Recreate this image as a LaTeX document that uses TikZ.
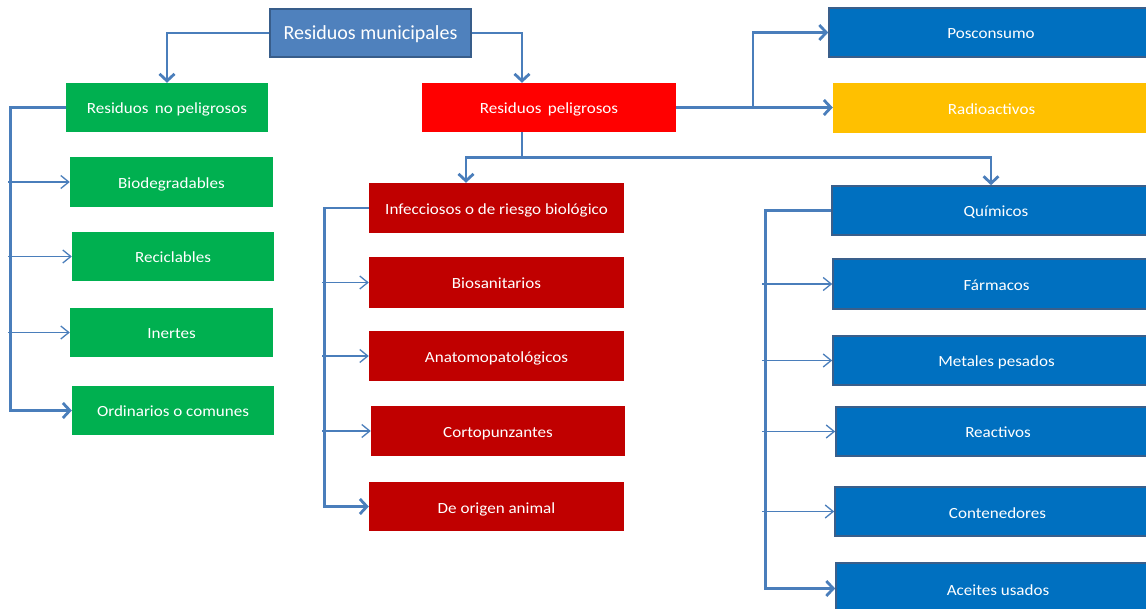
\documentclass[tikz,border=0pt]{standalone}
\usepackage{fontspec}
\setmainfont{Carlito}
\newfontfamily\boxfont[FakeStretch=1.1]{Carlito}
\usetikzlibrary{arrows.meta,calc}

\definecolor{lnk}{HTML}{4A7EBB}
\definecolor{topfill}{HTML}{4F81BD}
\definecolor{topline}{HTML}{385D8A}
\definecolor{verde}{HTML}{00B050}
\definecolor{rojo}{HTML}{FF0000}
\definecolor{granate}{HTML}{C00000}
\definecolor{azul}{HTML}{0070C0}
\definecolor{azulline}{HTML}{3A5F8B}
\definecolor{ambar}{HTML}{FFC000}

\tikzset{
  box/.style={rectangle, inner sep=0pt, text=white,
    text height=13pt, text depth=0pt,
    font=\boxfont\fontsize{15.5}{17}\selectfont},
  topbox/.style={box, fill=topfill, draw=topline, line width=2pt,
    text height=14pt, font=\fontsize{20}{23}\selectfont},
  gbox/.style={box, fill=verde},
  rbox/.style={box, fill=rojo},
  dbox/.style={box, fill=granate},
  bbox/.style={box, fill=azul, draw=azulline, line width=1.6pt},
  ybox/.style={box, fill=ambar},
  conn/.style={draw=lnk, line width=2.8pt,
    -{Straight Barb[length=7pt,width=15pt]}},
  trunk/.style={draw=lnk, line width=2.8pt},
  branch/.style={draw=lnk, line width=1.3pt,
    -{Straight Barb[length=8pt,width=13pt]}}
}

% box from its corners: x0, y0, x1, y1 (y grows downwards)
\newcommand\cornerbox[7]{%
  \node[#1, minimum width={#5-#3}, minimum height={#6-#4}]
    (#2) at ({(#3+#5)/2},{(#4+#6)/2}) {#7};}

\begin{document}
\begin{tikzpicture}[x=1pt,y=-1pt]
\useasboundingbox (0,0) rectangle (1146,609);
\clip (0,0) rectangle (1146,609);
\fill[white] (0,0) rectangle (1146,609);

% root
\cornerbox{topbox}{muni}{270}{9}{471}{57}{Residuos municipales}

% non-hazardous branch
\cornerbox{gbox}{nopel}{66}{83}{268}{132}{Residuos\, no peligrosos}
\cornerbox{gbox}{bio}{70}{157}{273}{207}{Biodegradables}
\cornerbox{gbox}{recic}{72}{232}{274}{281}{Reciclables}
\cornerbox{gbox}{inert}{70}{308}{273}{357}{Inertes}
\cornerbox{gbox}{ordin}{72}{386}{274}{435}{Ordinarios o comunes}

% hazardous branch
\cornerbox{rbox}{pel}{422}{83}{676}{132}{Residuos\, peligrosos}
\cornerbox{dbox}{infec}{369}{183}{624}{233}{Infecciosos o de riesgo biológico}
\cornerbox{dbox}{biosan}{369}{257}{624}{308}{Biosanitarios}
\cornerbox{dbox}{anat}{369}{331}{624}{381}{Anatomopatológicos}
\cornerbox{dbox}{corto}{371}{406}{625}{456}{Cortopunzantes}
\cornerbox{dbox}{animal}{369}{482}{624}{531}{De origen animal}

\cornerbox{bbox}{pos}{829}{8}{1153}{57}{Posconsumo}
\cornerbox{ybox}{radio}{833}{83}{1150}{133}{Radioactivos}

\cornerbox{bbox}{quim}{832}{186}{1160}{235}{Químicos}
\cornerbox{bbox}{farm}{833}{259}{1160}{309}{Fármacos}
\cornerbox{bbox}{metal}{833}{336}{1160}{385}{Metales pesados}
\cornerbox{bbox}{react}{836}{407}{1160}{456}{Reactivos}
\cornerbox{bbox}{cont}{835}{487}{1160}{536}{Contenedores}
\cornerbox{bbox}{aceite}{836}{563}{1160}{614}{Aceites usados}

% root to the two main groups
\draw[conn] (muni.west) -| (nopel.north);
\draw[conn] (muni.east) -| ([xshift=-27pt]pel.north);

% non-hazardous list
\coordinate (gl) at (8,0);
\draw[conn] (nopel.west) -- ++(-55,0) |- (ordin.west);
\draw[branch] (bio.west -| gl) -- (bio.west);
\draw[branch] (recic.west -| gl) -- (recic.west);
\draw[branch] (inert.west -| gl) -- (inert.west);

% hazardous: right side
\draw[conn] (pel.east) -- (pel.east -| radio.west);
\draw[conn] ($(pel.east)!0.49!(pel.east -| radio.west)$) |- (pos.west);

% hazardous: downwards split
\draw[trunk] ([xshift=-27pt]pel.south) -- ++(0,25) coordinate (split);
\draw[conn] (split) -| ([xshift=-30.5pt]infec.north);
\draw[conn] (split) -| ([xshift=-5pt]quim.north);

% infectious list
\coordinate (rl) at (322,0);
\draw[conn] (infec.west) -- ++(-44,0) |- (animal.west);
\draw[branch] (biosan.west -| rl) -- (biosan.west);
\draw[branch] (anat.west -| rl) -- (anat.west);
\draw[branch] (corto.west -| rl) -- (corto.west);

% chemical list
\coordinate (bl) at (762,0);
\draw[conn] (quim.west) -- ++(-66,0) |- (aceite.west);
\draw[branch] (farm.west -| bl) -- (farm.west);
\draw[branch] (metal.west -| bl) -- (metal.west);
\draw[branch] (react.west -| bl) -- (react.west);
\draw[branch] (cont.west -| bl) -- (cont.west);
\end{tikzpicture}
\end{document}
